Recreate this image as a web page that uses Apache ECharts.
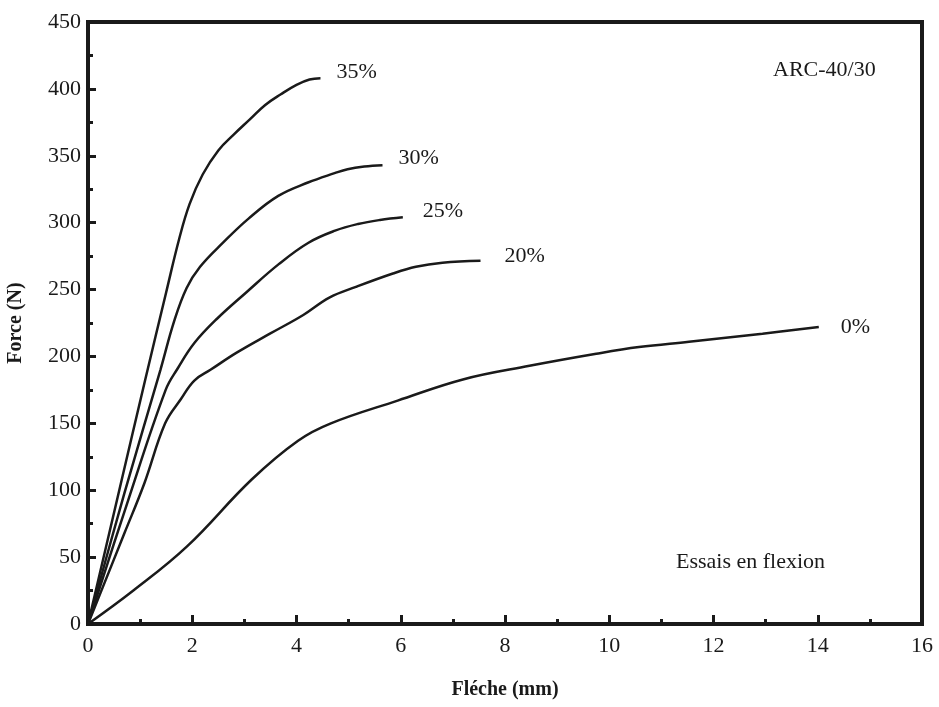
<!DOCTYPE html>
<html>
<head>
<meta charset="utf-8">
<script src="https://cdn.jsdelivr.net/npm/echarts@6/dist/echarts.min.js"></script>
<style>
html,body{margin:0;padding:0;background:#fff;}
#chart{width:939px;height:707px;}
</style>
</head>
<body>
<div id="chart"></div>
<script>
// Flèche (mm) and Force (N) per series
var seriesNames = ['35%', '30%', '25%', '20%', '0%'];
var fleche35 = [0, 0.6, 1.1, 1.5, 1.75, 1.95, 2.2, 2.5, 2.8, 3.1, 3.4, 3.7, 4.0, 4.25, 4.46];
var force35  = [0, 100, 183, 248, 288, 314, 336, 354, 366, 377, 388, 396, 403, 407, 408];
var fleche30 = [0, 0.7, 1.39, 1.65, 1.89, 2.15, 2.59, 3.08, 3.65, 4.22, 4.73, 4.98, 5.30, 5.65];
var force30  = [0, 98, 190, 226, 251, 267, 285, 303, 320, 330, 337, 340, 342, 343];
var fleche25 = [0, 0.75, 1.49, 1.72, 2.04, 2.47, 3.04, 3.66, 4.23, 4.74, 5.18, 5.60, 6.04];
var force25  = [0, 90, 175, 191, 210, 228, 248, 269, 285, 294, 299, 302, 304];
var fleche20 = [0, 0.7, 1.08, 1.48, 1.78, 2.04, 2.35, 2.86, 3.49, 4.13, 4.63, 5.14, 5.85, 6.29, 6.80, 7.53];
var force20  = [0, 68, 105, 150, 168, 182, 190, 203, 217, 231, 244, 252, 262, 267, 270, 271.5];
var fleche0  = [0, 0.87, 1.90, 3.14, 4.03, 4.66, 5.94, 7.21, 8.47, 9.75, 10.57, 11.53, 12.94, 14.02];
var force0   = [0, 25, 58, 108, 137, 150, 167, 183, 193, 202, 207, 211, 217, 222];
var xTicks = [0, 2, 4, 6, 8, 10, 12, 14, 16];
var yTicks = [0, 50, 100, 150, 200, 250, 300, 350, 400, 450];

function zip(xs, ys) { return xs.map(function (x, i) { return [x, ys[i]]; }); }
var allX = [fleche35, fleche30, fleche25, fleche20, fleche0];
var allY = [force35, force30, force25, force20, force0];
var labelOffsets = [[8, -6], [8, -7], [12, -6], [16, -5], [14, 0]];

var FONT = '"Liberation Serif", "Times New Roman", serif';
var INK = '#1a1a1a';

var chart = echarts.init(document.getElementById('chart'), null, {renderer: 'canvas'});
var series = seriesNames.map(function (name, i) {
  return {
    name: name,
    type: 'line',
    data: zip(allX[i], allY[i]),
    showSymbol: false,
    symbol: 'none',
    smooth: 0.4,
    lineStyle: {color: INK, width: 2.5},
    endLabel: {
      show: true,
      formatter: name,
      offset: labelOffsets[i],
      color: INK,
      fontFamily: FONT,
      fontSize: 22
    },
    animation: false
  };
});

chart.setOption({
  backgroundColor: '#fff',
  animation: false,
  grid: {
    left: 88, right: 17, top: 22, bottom: 83,
    containLabel: false, outerBoundsMode: 'none',
    show: true, borderColor: INK, borderWidth: 4, backgroundColor: 'transparent'
  },
  xAxis: {
    type: 'value', min: xTicks[0], max: xTicks[xTicks.length - 1], interval: 2,
    name: 'Fléche (mm)', nameLocation: 'middle', nameGap: 56,
    nameTextStyle: {fontFamily: FONT, fontWeight: 'bold', fontSize: 20, color: INK},
    axisLine: {show: true, lineStyle: {color: INK, width: 4}},
    axisTick: {show: true, inside: true, length: 9, lineStyle: {color: INK, width: 3}},
    minorTick: {show: true, splitNumber: 2, length: 5, lineStyle: {color: INK, width: 3}},
    splitLine: {show: false},
    axisLabel: {fontFamily: FONT, fontSize: 22, color: INK, margin: 11}
  },
  yAxis: {
    type: 'value', min: yTicks[0], max: yTicks[yTicks.length - 1], interval: 50,
    name: 'Force (N)', nameLocation: 'middle', nameGap: 62, nameRotate: 90,
    nameTextStyle: {fontFamily: FONT, fontWeight: 'bold', fontSize: 20, color: INK},
    axisLine: {show: true, lineStyle: {color: INK, width: 4}},
    axisTick: {show: true, inside: true, length: 8, lineStyle: {color: INK, width: 3}},
    minorTick: {show: true, splitNumber: 2, length: 5, lineStyle: {color: INK, width: 3}},
    splitLine: {show: false},
    axisLabel: {fontFamily: FONT, fontSize: 22, color: INK, margin: 7}
  },
  graphic: [
    {type: 'text', left: 773, top: 59, style: {text: 'ARC-40/30', font: '22px ' + FONT, fill: INK}},
    {type: 'text', left: 676, top: 551, style: {text: 'Essais en flexion', font: '22px ' + FONT, fill: INK}}
  ],
  series: series
});
</script>
</body>
</html>
